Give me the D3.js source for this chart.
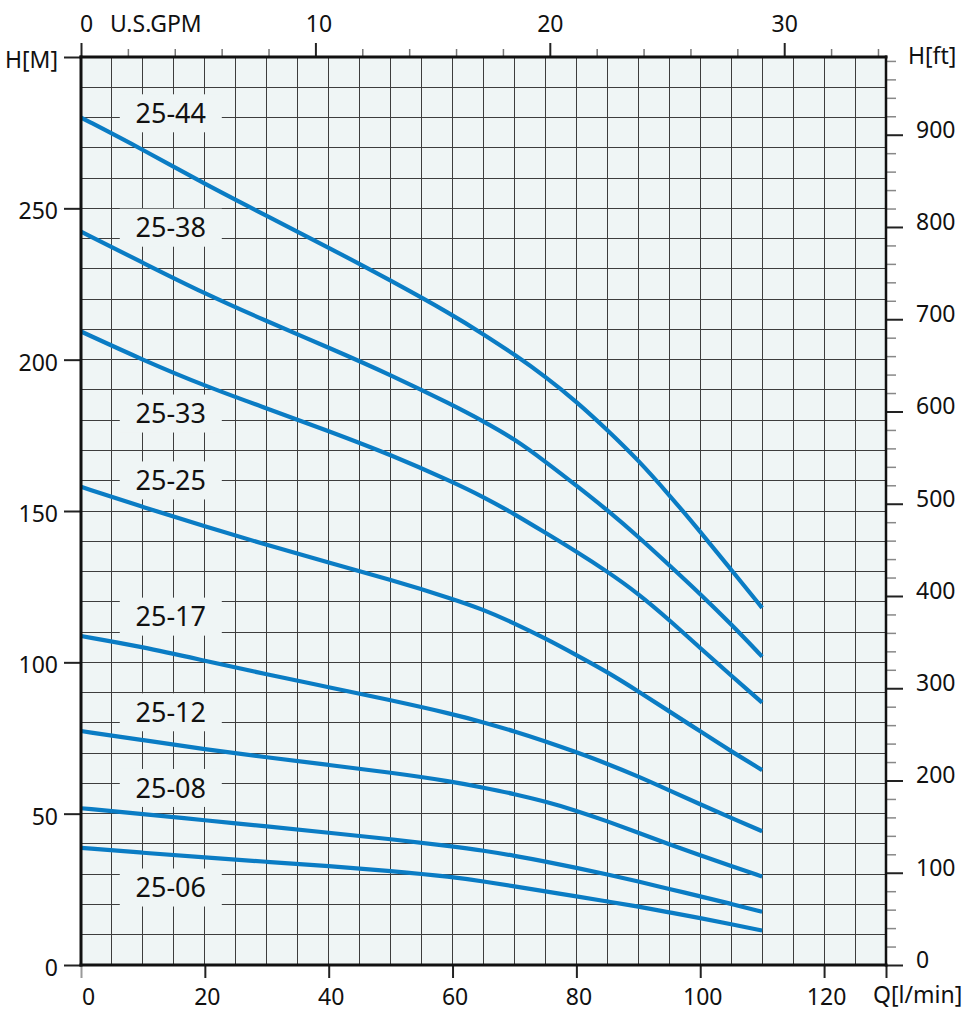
<!DOCTYPE html>
<html>
<head>
<meta charset="utf-8">
<script src="https://cdn.jsdelivr.net/npm/d3@7"></script>
<style>
  html, body { margin: 0; padding: 0; background: #fff; }
  svg text { font-family: "Noto Sans", "Open Sans", sans-serif; fill: #111; }
</style>
</head>
<body>
<svg id="chart" width="979" height="1032"></svg>
<script>
// ---------- data ----------
const flowQ = [0, 10, 20, 30, 40, 50, 60, 65, 70, 75, 80, 85, 90, 95, 100, 105, 110];
const pumpNames = ["25-44", "25-38", "25-33", "25-25", "25-17", "25-12", "25-08", "25-06"];
const head2544 = [280, 269.4, 258, 247.5, 237, 226.2, 214.8, 208.4, 201.7, 194.4, 186.2, 176.8, 166.8, 155.3, 143.2, 130.6, 118];
const head2538 = [242.3, 232, 221.8, 212.7, 204, 195, 185, 179.6, 173.8, 166.3, 158.4, 150.3, 141.5, 132.1, 122.6, 112.6, 101.9];
const head2533 = [209.3, 199.9, 191.3, 183.9, 176.4, 168.6, 159.6, 154.6, 149, 142.8, 136.6, 130, 122.7, 114, 104.7, 95.6, 86.7];
const head2525 = [158, 151.3, 144.9, 138.8, 132.9, 127.3, 121, 117.4, 112.9, 107.9, 102.4, 96.8, 90.4, 83.8, 77.2, 70.6, 64.4];
const head2517 = [108.7, 105.1, 100.5, 96, 91.8, 87.5, 82.9, 80.2, 77.2, 73.9, 70.3, 66.5, 62.3, 57.7, 53.1, 48.6, 44.2];
const head2512 = [77.3, 74.3, 71.3, 68.6, 66.1, 63.6, 60.6, 58.6, 56.5, 54, 51, 47.5, 43.7, 39.9, 36.2, 32.7, 29.2];
const head2508 = [51.8, 49.9, 47.8, 45.8, 43.7, 41.6, 39.2, 37.8, 36.1, 34.2, 32.1, 29.9, 27.6, 25.1, 22.7, 20.2, 17.6];
const head2506 = [38.7, 37.1, 35.5, 34.1, 32.7, 31.1, 29.1, 27.6, 26, 24.3, 22.7, 21, 19.3, 17.4, 15.5, 13.5, 11.4];
const labelQ = 14.5;
const labelH = [281.4, 243.6, 182.2, 160.1, 115.1, 83.5, 58.5, 25.6];
const qTicks = [0, 20, 40, 60, 80, 100, 120];
const hTicks = [0, 50, 100, 150, 200, 250, 300];
const gpmTicks = [0, 10, 20, 30];
const ftTicks = [0, 100, 200, 300, 400, 500, 600, 700, 800, 900];

const heads = [head2544, head2538, head2533, head2525, head2517, head2512, head2508, head2506];

// ---------- layout ----------
const L = 81, R = 886, T = 57, B = 965;
const qMax = 130, hMax = 300;
const svg = d3.select("#chart");
const x = d3.scaleLinear().domain([0, qMax]).range([L, R]);
const y = d3.scaleLinear().domain([0, hMax]).range([B, T]);
const xGpm = d3.scaleLinear().domain([0, qMax / 3.78541]).range([L, R]);
const yFt = d3.scaleLinear().domain([0, hMax / 0.3048]).range([B, T]);

// background
svg.append("rect").attr("x", L).attr("y", T).attr("width", R - L).attr("height", B - T)
  .attr("fill", "#eff5f5");

// grid
const grid = svg.append("g").attr("stroke", "#3d3d3d").attr("stroke-width", 1)
  .attr("shape-rendering", "crispEdges");
grid.selectAll("line.v").data(d3.range(5, qMax, 5)).join("line")
  .attr("x1", d => x(d)).attr("x2", d => x(d)).attr("y1", T).attr("y2", B);
grid.selectAll("line.h").data(d3.range(10, hMax, 10)).join("line")
  .attr("y1", d => y(d)).attr("y2", d => y(d)).attr("x1", L).attr("x2", R);

// label boxes (mask grid)
const boxW = 102, boxH = 38;
svg.append("g").selectAll("rect").data(labelH).join("rect")
  .attr("x", x(labelQ) - boxW / 2)
  .attr("y", d => Math.max(T + 1, y(d) - boxH / 2))
  .attr("width", boxW)
  .attr("height", d => (y(d) + boxH / 2) - Math.max(T + 1, y(d) - boxH / 2))
  .attr("fill", "#eff5f5");

// curves
const line = d3.line().x((d, i) => x(flowQ[i])).y(d => y(d)).curve(d3.curveBasis);
svg.append("g").selectAll("path").data(heads).join("path")
  .attr("d", d => line(d))
  .attr("fill", "none").attr("stroke", "#0a7cc4").attr("stroke-width", 4.2)
  .attr("stroke-linejoin", "round");

// curve labels
svg.append("g").selectAll("text").data(pumpNames).join("text")
  .attr("x", x(labelQ)).attr("y", (d, i) => y(labelH[i]))
  .attr("dy", "0.36em").attr("text-anchor", "middle")
  .attr("font-size", 27).text(d => d);

// ---------- axes ----------
function styleAxis(g, color, width) {
  g.select(".domain").remove();
  g.selectAll(".tick line").attr("stroke", color).attr("stroke-width", width);
  g.selectAll(".tick text").attr("font-size", 23).attr("fill", "#111")
    .attr("font-family", "'Noto Sans', sans-serif");
}

// left axis
const gl = svg.append("g").attr("transform", `translate(${L},0)`)
  .call(d3.axisLeft(y).tickValues(hTicks).tickSize(17).tickPadding(6)
    .tickFormat(d => d === 300 ? "H[M]" : d));
styleAxis(gl, "#222", 2);
gl.selectAll(".tick text").attr("dy", "0.45em");

// bottom axis
const gb = svg.append("g").attr("transform", `translate(0,${B})`)
  .call(d3.axisBottom(x).tickValues(qTicks.concat([130])).tickSize(13).tickPadding(11)
    .tickFormat(d => d === 130 ? "" : d));
styleAxis(gb, "#222", 2);
gb.selectAll(".tick text").attr("dx", d => d === 0 ? 7 : 2);
gb.selectAll(".tick").filter(d => d === 0).select("line").attr("stroke", "#999");
svg.append("text").attr("x", 873).attr("y", 1003).attr("font-size", 23).text("Q[l/min]");

// top axis minor
const gtm = svg.append("g").attr("transform", `translate(0,${T})`)
  .call(d3.axisTop(xGpm).tickValues(d3.range(0, 35, 2).filter(v => v % 10 !== 0)).tickSize(8).tickFormat(""));
styleAxis(gtm, "#777", 1.5);
// top axis major
const gt = svg.append("g").attr("transform", `translate(0,${T})`)
  .call(d3.axisTop(xGpm).tickValues(gpmTicks).tickSize(14).tickPadding(8));
styleAxis(gt, "#222", 2);
gt.selectAll(".tick text").attr("dx", d => d === 0 ? 5 : (d === 10 ? 3 : 0)).attr("dy", 0);
gt.selectAll(".tick text").attr("y", 32 - T);
svg.append("text").attr("x", 110).attr("y", 32).attr("font-size", 23).text("U.S.GPM");

// right axis minor
const grm = svg.append("g").attr("transform", `translate(${R},0)`)
  .call(d3.axisRight(yFt).tickValues(d3.range(20, 985, 20).filter(v => v % 100 !== 0)).tickSize(10).tickFormat(""));
styleAxis(grm, "#888", 1.5);
// right axis major
const gr = svg.append("g").attr("transform", `translate(${R},0)`)
  .call(d3.axisRight(yFt).tickValues(ftTicks).tickSize(17).tickPadding(13));
styleAxis(gr, "#222", 2);
gr.selectAll(".tick text").attr("dy", "0.1em");
svg.append("text").attr("x", 908).attr("y", 64).attr("font-size", 23).text("H[ft]");

// frame
const frame = svg.append("g").attr("stroke", "#111").attr("stroke-width", 3).attr("fill", "none");
frame.append("line").attr("x1", L).attr("x2", L).attr("y1", T - 1.5).attr("y2", B + 1.5);
frame.append("line").attr("x1", L - 1.5).attr("x2", R + 1.5).attr("y1", B).attr("y2", B);
frame.append("line").attr("x1", L - 1.5).attr("x2", R + 1.5).attr("y1", T).attr("y2", T);
frame.append("line").attr("x1", R).attr("x2", R).attr("y1", T - 1.5).attr("y2", B + 1.5).attr("stroke-width", 2.5);
</script>
</body>
</html>
